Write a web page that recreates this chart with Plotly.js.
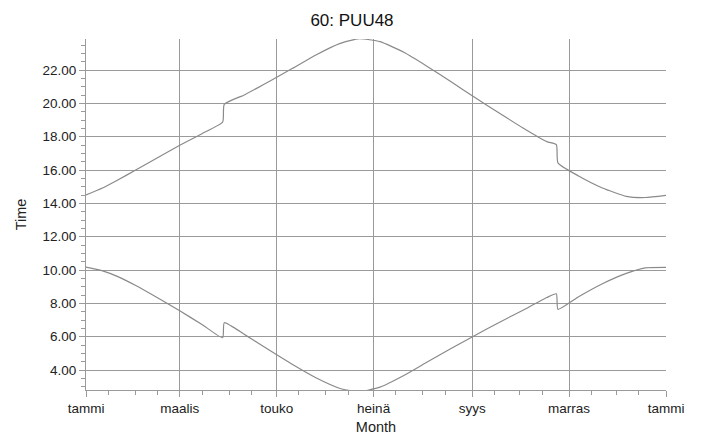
<!DOCTYPE html>
<html>
<head>
<meta charset="utf-8">
<script src="https://cdn.plot.ly/plotly-3.0.1.min.js"></script>
<style>html,body{margin:0;padding:0;background:#fff;}#chart{width:704px;height:435px;}</style>
</head>
<body>
<div id="chart"></div>
<script>
// Day of year (0 = 1 Jan)
const days = [0,10,20,31,45,59,73,86,87,100,115,130,145,160,172,185,200,215,230,245,260,275,290,296,297,310,325,340,352,365];
// Sunset (upper curve), hours
const sunset = [14.50,14.90,15.40,15.98,16.74,17.48,18.18,18.88,19.94,20.52,21.30,22.10,22.92,23.60,23.88,23.70,23.06,22.20,21.28,20.33,19.42,18.52,17.70,17.52,16.43,15.64,14.92,14.42,14.35,14.48];
// Sunrise (lower curve), hours
const sunrise = [10.17,9.96,9.60,9.08,8.33,7.55,6.73,5.94,6.84,6.12,5.21,4.33,3.52,2.89,2.70,2.97,3.67,4.49,5.30,6.09,6.85,7.59,8.35,8.57,7.64,8.40,9.18,9.80,10.13,10.16];

const monthTickVals = [0,59,120,181,243,304,365];
const monthTickText = ['tammi','maalis','touko','heinä','syys','marras','tammi'];
const halfMonthVals = [14,31,45,73,90,104,134,151,165,195,212,226,257,273,287,318,334,348];
const yTickVals = [4,6,8,10,12,14,16,18,20,22];

const lineStyle = {color:'#8a8a8a', width:1.2, shape:'spline', smoothing:0.5};
const traces = [
  {x:days, y:sunset, type:'scatter', mode:'lines', line:lineStyle, hoverinfo:'skip'},
  {x:days, y:sunrise, type:'scatter', mode:'lines', line:lineStyle, hoverinfo:'skip'}
];

const gridCol = '#9a9a9a';
const layout = {
  width:704, height:435,
  margin:{l:86, r:38, t:39, b:45},
  paper_bgcolor:'#fff', plot_bgcolor:'#fff',
  showlegend:false,
  font:{family:'"Liberation Sans", Arial, sans-serif', color:'#222', size:13},
  title:{text:'60: PUU48', x:0.5, xanchor:'center', y:0.955, yanchor:'middle', font:{size:17, color:'#111'}},
  xaxis:{
    range:[0,365], tickmode:'array', tickvals:monthTickVals, ticktext:monthTickText,
    showgrid:true, gridcolor:gridCol, gridwidth:1,
    showline:true, linecolor:gridCol, linewidth:1,
    ticks:'outside', ticklen:6, tickcolor:gridCol,
    minor:{tickmode:'array', tickvals:halfMonthVals, ticks:'outside', ticklen:4, tickcolor:gridCol, showgrid:false},
    zeroline:false, tickfont:{size:13.5},
    title:{text:'Month', font:{size:14.5}, standoff:6}
  },
  yaxis:{
    range:[2.8,23.86], tickmode:'array', tickvals:yTickVals, tickformat:'.2f',
    showgrid:true, gridcolor:gridCol, gridwidth:1,
    showline:true, linecolor:gridCol, linewidth:1,
    ticks:'outside', ticklen:6, tickcolor:gridCol,
    minor:{tickmode:'linear', tick0:3, dtick:0.5, ticks:'outside', ticklen:4, tickcolor:gridCol, showgrid:false},
    zeroline:false, tickfont:{size:13.5},
    title:{text:'Time', font:{size:14.5}, standoff:12}
  }
};
Plotly.newPlot('chart', traces, layout, {displayModeBar:false, staticPlot:true});
</script>
</body>
</html>
